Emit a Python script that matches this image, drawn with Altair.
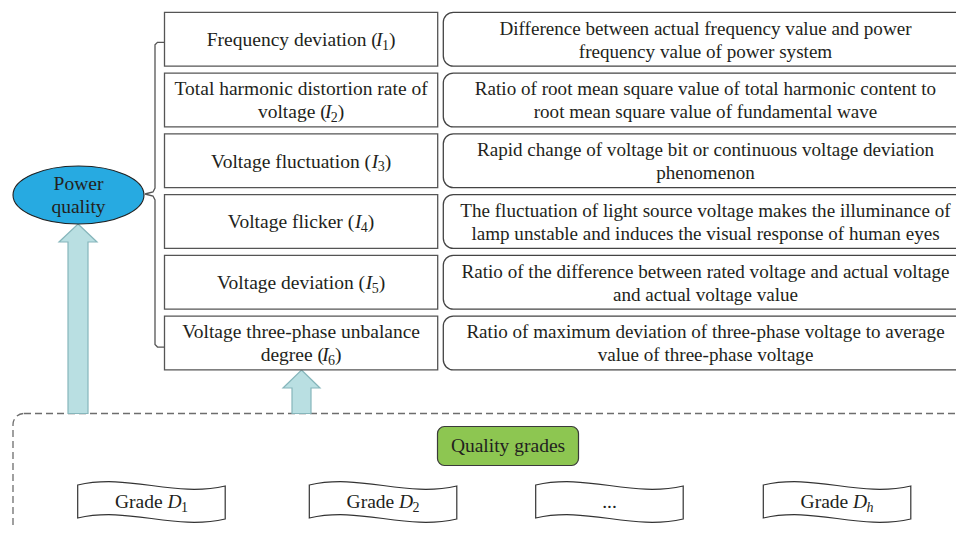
import altair as alt
import pandas as pd

# ---------------- content (text of the diagram) ----------------
indicator_lines = [
    ["Frequency deviation"],
    ["Total harmonic distortion rate of", "voltage"],
    ["Voltage fluctuation"],
    ["Voltage flicker"],
    ["Voltage deviation"],
    ["Voltage three-phase unbalance", "degree"],
]
indicator_symbol = "I"
indicator_index = ["1", "2", "3", "4", "5", "6"]
description_lines = [
    ["Difference between actual frequency value and power", "frequency value of power system"],
    ["Ratio of root mean square value of total harmonic content to", "root mean square value of fundamental wave"],
    ["Rapid change of voltage bit or continuous voltage deviation", "phenomenon"],
    ["The fluctuation of light source voltage makes the illuminance of", "lamp unstable and induces the visual response of human eyes"],
    ["Ratio of the difference between rated voltage and actual voltage", "and actual voltage value"],
    ["Ratio of maximum deviation of three-phase voltage to average", "value of three-phase voltage"],
]
root_lines = ["Power", "quality"]
grades_title = "Quality grades"
grade_prefix = ["Grade ", "Grade ", "...", "Grade "]
grade_symbol = ["D", "D", "", "D"]
grade_index = ["1", "2", "", "h"]

# ---------------- layout & style ----------------
FONT = "Liberation Serif"
FS = 19.5
DESC_FS = 19.1
DESC_CX = 705.5
SUB_FS = 14
SUB_DY = 3.5
LINE_H = 23
BASE_OFF = 6.8
TEXT_C = "#231f20"
ITALIC_KERN = -1.8   # pull the italic symbol towards the opening parenthesis
SUB_KERN = -0.6

VIEW_X = (8, 956)
VIEW_Y = (8, 526)
ROW_TOP, ROW_STEP, ROW_H = 12.3, 60.75, 53.8
LEFT_BOX = (164.5, 437.7)
RIGHT_BOX = (443.3, 973.0)
BRACKET_X, BRACKET_TIP_X = 155.0, 145.0
ELL = dict(cx=78.5, cy=195.0, rx=65.5, ry=29.0)
ARROWS = [
    dict(x=78.0, tip=224.0, head_half=19.0, head_h=18.0, shaft_half=10.0, bottom=413.5),
    dict(x=301.5, tip=370.0, head_half=18.5, head_h=18.0, shaft_half=9.5, bottom=413.5),
]
DASH_BOX = (13.0, 413.5, 970.0, 548.0)
GREEN_BOX = (437.5, 426.5, 578.5, 465.5)
BANNER_LEFT = [77.7, 309.3, 535.7, 763.3]
BANNER_W = 147.5
BANNER_CY = 501.5
GRADE_BASE = 508.3

# Times / Liberation Serif advance widths (1/1000 em)
W_ROMAN = {
    " ": 250, "(": 333, ")": 333, "-": 333, ".": 250, ",": 250,
    "A": 722, "B": 667, "C": 667, "D": 722, "E": 611, "F": 556, "G": 722, "H": 722,
    "I": 333, "J": 389, "K": 722, "L": 611, "M": 889, "N": 722, "O": 722, "P": 556,
    "Q": 722, "R": 667, "S": 556, "T": 611, "U": 722, "V": 722, "W": 944, "X": 722,
    "Y": 722, "Z": 611,
    "a": 444, "b": 500, "c": 444, "d": 500, "e": 444, "f": 333, "g": 500, "h": 500,
    "i": 278, "j": 278, "k": 500, "l": 278, "m": 778, "n": 500, "o": 500, "p": 500,
    "q": 500, "r": 333, "s": 389, "t": 278, "u": 500, "v": 500, "w": 722, "x": 500,
    "y": 500, "z": 444,
}
for _d in "0123456789":
    W_ROMAN[_d] = 500
W_ITALIC = {"I": 333, "D": 722, "h": 500}


def tw(s, size=FS, italic=False):
    tab = W_ITALIC if italic else W_ROMAN
    return sum(tab.get(ch, W_ROMAN.get(ch, 500)) for ch in s) * size / 1000.0


pieces = []  # x, y, t, s, style, align


def add(x, y, t, s=FS, style="normal", align="center"):
    pieces.append(dict(x=x, y=y, t=t, s=s, style=style, align=align))


def add_symbol_line(cx, base, prefix, sym, idx, closing):
    parts = [(prefix, FS, False, 0.0, 0.0)]
    if sym:
        parts.append((sym, FS, True, 0.0, ITALIC_KERN if prefix.endswith("(") else 0.0))
    if idx:
        parts.append((idx, SUB_FS, idx.isalpha(), SUB_DY, SUB_KERN))
    if closing:
        parts.append((closing, FS, False, 0.0, 0.0))
    total = sum(tw(p, sz, it) + kern for p, sz, it, _, kern in parts)
    x = cx - total / 2.0
    for p, sz, it, dy, kern in parts:
        x += kern
        add(x, base + dy, p, sz, "italic" if it else "normal", "left")
        x += tw(p, sz, it)


def baselines(cy, n, lh=LINE_H):
    return [cy + BASE_OFF + (k - (n - 1) / 2.0) * lh for k in range(n)]


row_tops = [ROW_TOP + i * ROW_STEP for i in range(len(indicator_lines))]
row_cy = [t + ROW_H / 2.0 for t in row_tops]
lcx = (LEFT_BOX[0] + LEFT_BOX[1]) / 2.0

for i, lines in enumerate(indicator_lines):
    bl = baselines(row_cy[i], len(lines))
    for k, line in enumerate(lines):
        if k < len(lines) - 1:
            add(lcx, bl[k], line)
        else:
            add_symbol_line(lcx, bl[k], line + " (", indicator_symbol, indicator_index[i], ")")
    dl = baselines(row_cy[i], len(description_lines[i]))
    for k, line in enumerate(description_lines[i]):
        add(DESC_CX, dl[k], line, DESC_FS)

for k, b in enumerate(baselines(ELL["cy"], len(root_lines), 22.5)):
    add(ELL["cx"], b - 0.3, root_lines[k])

add((GREEN_BOX[0] + GREEN_BOX[2]) / 2.0, (GREEN_BOX[1] + GREEN_BOX[3]) / 2.0 + BASE_OFF - 0.8, grades_title)

for j, left in enumerate(BANNER_LEFT):
    cx = left + BANNER_W / 2.0
    if grade_symbol[j]:
        add_symbol_line(cx, GRADE_BASE, grade_prefix[j], grade_symbol[j], grade_index[j], "")
    else:
        add(cx, GRADE_BASE, grade_prefix[j])

text_df = pd.DataFrame(pieces)

# ---------------- shapes ----------------
left_df = pd.DataFrame(dict(x=[LEFT_BOX[0]] * 6, x2=[LEFT_BOX[1]] * 6,
                            y=row_tops, y2=[t + ROW_H for t in row_tops]))
right_df = pd.DataFrame(dict(x=[RIGHT_BOX[0]] * 6, x2=[RIGHT_BOX[1]] * 6,
                             y=row_tops, y2=[t + ROW_H for t in row_tops]))
dash_df = pd.DataFrame(dict(x=[DASH_BOX[0]], y=[DASH_BOX[1]], x2=[DASH_BOX[2]], y2=[DASH_BOX[3]]))
green_df = pd.DataFrame(dict(x=[GREEN_BOX[0]], y=[GREEN_BOX[1]], x2=[GREEN_BOX[2]], y2=[GREEN_BOX[3]]))

top_tick = row_tops[0] + 30.0
bot_tick = row_tops[-1] + 31.0
mid = ELL["cy"] - 1.0
BX, LX = BRACKET_X, LEFT_BOX[0]
bracket_pts = [
    (LX, top_tick), (BX + 2.5, top_tick), (BX, top_tick + 2.5),
    (BX, mid - 6), (BX - 2, mid - 2), (BRACKET_TIP_X, mid), (BX - 2, mid + 2), (BX, mid + 6),
    (BX, bot_tick - 2.5), (BX + 2.5, bot_tick), (LX, bot_tick),
]
bracket_df = pd.DataFrame(dict(x=[p[0] for p in bracket_pts], y=[p[1] for p in bracket_pts],
                               o=list(range(len(bracket_pts)))))

ell_path = "M-1,0 A1,{k:.4f},0,1,1,1,0 A1,{k:.4f},0,1,1,-1,0 Z".format(k=ELL["ry"] / ELL["rx"])
ell_df = pd.DataFrame(dict(x=[ELL["cx"]], y=[ELL["cy"]]))


def arrow_path(a):
    s = a["head_half"]
    L = a["bottom"] - a["tip"]
    pts = [(0, 0), (s, a["head_h"]), (a["shaft_half"], a["head_h"]), (a["shaft_half"], L),
           (-a["shaft_half"], L), (-a["shaft_half"], a["head_h"]), (-s, a["head_h"])]
    return "M" + " L".join("{:.4f},{:.4f}".format(x / s, y / s) for x, y in pts) + " Z"


# wavy "tape" banner, centred
hw = BANNER_W / 2.0
r = hw
tl, tr, blf, brt = -16.5, -15.5, 16.5, 17.5
c1x, c2x = -hw + 0.35 * BANNER_W, -hw + 0.65 * BANNER_W
banner_path = (
    "M{a:.4f},{b:.4f} C{c:.4f},{d:.4f} {e:.4f},{f:.4f} {g:.4f},{h:.4f} L{g:.4f},{i:.4f} "
    "C{e:.4f},{j:.4f} {c:.4f},{k:.4f} {a:.4f},{l:.4f} Z"
).format(a=-hw / r, b=tl / r, c=c1x / r, d=(tl - 12) / r, e=c2x / r, f=(tl + 13) / r,
         g=hw / r, h=tr / r, i=brt / r, j=(blf + 13) / r, k=(blf - 12) / r, l=blf / r)
banner_df = pd.DataFrame(dict(x=[l + BANNER_W / 2.0 for l in BANNER_LEFT], y=[BANNER_CY] * 4))

# ---------------- chart ----------------
xs = alt.Scale(domain=list(VIEW_X), nice=False, zero=False)
ys = alt.Scale(domain=list(VIEW_Y), nice=False, zero=False, reverse=True)
X = alt.X("x:Q", scale=xs, axis=None)
Y = alt.Y("y:Q", scale=ys, axis=None)
X2 = alt.X2("x2:Q")
Y2 = alt.Y2("y2:Q")

layers = []
layers.append(alt.Chart(dash_df).mark_rect(fill=None, fillOpacity=0, stroke="#6d6d6d", strokeWidth=1.3,
                                           strokeDash=[7, 4], cornerRadius=11).encode(X, Y, X2, Y2))
for a in ARROWS:
    adf = pd.DataFrame(dict(x=[a["x"]], y=[a["tip"]]))
    layers.append(alt.Chart(adf).mark_point(shape=arrow_path(a), size=(2 * a["head_half"]) ** 2,
                                            filled=True, fill="#b9dfe2", stroke="#86b6bb",
                                            strokeWidth=1.2, opacity=1).encode(X, Y))
layers.append(alt.Chart(ell_df).mark_point(shape=ell_path, size=(2 * ELL["rx"]) ** 2, filled=True,
                                           fill="#27aae1", stroke="#1f1f1f", strokeWidth=1.1,
                                           opacity=1).encode(X, Y))
layers.append(alt.Chart(bracket_df).mark_line(color="#555555", strokeWidth=1.3).encode(
    X, Y, order=alt.Order("o:Q")))
layers.append(alt.Chart(left_df).mark_rect(fill="white", stroke="#555555", strokeWidth=1.3).encode(X, Y, X2, Y2))
layers.append(alt.Chart(right_df).mark_rect(fill="white", stroke="#444444", strokeWidth=1.3,
                                            cornerRadius=10).encode(X, Y, X2, Y2))
layers.append(alt.Chart(green_df).mark_rect(fill="#8dc651", stroke="#3a3a3a", strokeWidth=1.2,
                                            cornerRadius=7).encode(X, Y, X2, Y2))
layers.append(alt.Chart(banner_df).mark_point(shape=banner_path, size=(2 * r) ** 2, filled=True,
                                              fill="white", stroke="#333333", strokeWidth=1.2,
                                              opacity=1).encode(X, Y))

for style in ["normal", "italic"]:
    for align in ["center", "left"]:
        sub = text_df[(text_df["style"] == style) & (text_df["align"] == align)]
        if len(sub) == 0:
            continue
        layers.append(alt.Chart(sub).mark_text(font=FONT, fontStyle=style, align=align,
                                               baseline="alphabetic", color=TEXT_C).encode(
            X, Y, text="t:N", size=alt.Size("s:Q", scale=None, legend=None)))

chart = alt.layer(*layers).properties(
    width=VIEW_X[1] - VIEW_X[0],
    height=VIEW_Y[1] - VIEW_Y[0],
    autosize=alt.AutoSizeParams(type="none"),
    padding=0,
).configure_view(stroke=None)

chart.save("out.html", embed_options={"renderer": "svg", "actions": False})
